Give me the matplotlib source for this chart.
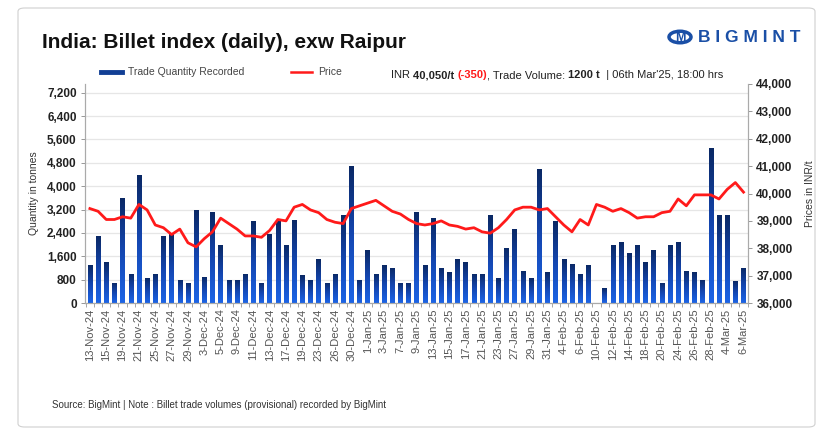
import matplotlib
matplotlib.use('Agg')
import matplotlib.pyplot as plt
import numpy as np
from matplotlib.colors import LinearSegmentedColormap
from matplotlib.patches import FancyBboxPatch, Circle
from matplotlib.lines import Line2D
from matplotlib.ticker import FuncFormatter

plt.rcParams['font.family'] = ['Liberation Sans', 'DejaVu Sans']

dates = [
    '13-Nov-24', '14-Nov-24', '15-Nov-24', '18-Nov-24', '19-Nov-24', '20-Nov-24', '21-Nov-24',
    '22-Nov-24', '25-Nov-24', '26-Nov-24', '27-Nov-24', '28-Nov-24', '29-Nov-24', '2-Dec-24',
    '3-Dec-24', '4-Dec-24', '5-Dec-24', '6-Dec-24', '9-Dec-24', '10-Dec-24', '11-Dec-24',
    '12-Dec-24', '13-Dec-24', '16-Dec-24', '17-Dec-24', '18-Dec-24', '19-Dec-24', '20-Dec-24',
    '23-Dec-24', '24-Dec-24', '26-Dec-24', '27-Dec-24', '30-Dec-24', '31-Dec-24', '1-Jan-25',
    '2-Jan-25', '3-Jan-25', '6-Jan-25', '7-Jan-25', '8-Jan-25', '9-Jan-25', '10-Jan-25',
    '13-Jan-25', '14-Jan-25', '15-Jan-25', '16-Jan-25', '17-Jan-25', '20-Jan-25', '21-Jan-25',
    '22-Jan-25', '23-Jan-25', '24-Jan-25', '27-Jan-25', '28-Jan-25', '29-Jan-25', '30-Jan-25',
    '31-Jan-25', '3-Feb-25', '4-Feb-25', '5-Feb-25', '6-Feb-25', '7-Feb-25', '10-Feb-25',
    '11-Feb-25', '12-Feb-25', '13-Feb-25', '14-Feb-25', '17-Feb-25', '18-Feb-25', '19-Feb-25',
    '20-Feb-25', '21-Feb-25', '24-Feb-25', '25-Feb-25', '26-Feb-25', '27-Feb-25', '28-Feb-25',
    '3-Mar-25', '4-Mar-25', '5-Mar-25', '6-Mar-25',
]

quantity = [
    1300, 2300, 1400, 700, 3600, 1000, 4400, 850, 1000, 2300,
    2350, 800, 700, 3200, 900, 3100, 2000, 800, 800, 1000,
    2800, 700, 2350, 2800, 2000, 2850, 950, 800, 1500, 700,
    1000, 3000, 4700, 800, 1800, 1000, 1300, 1200, 700, 700,
    3100, 1300, 2900, 1200, 1050, 1500, 1400, 1000, 1000, 3000,
    850, 1900, 2550, 1100, 850, 4600, 1050, 2800, 1500, 1350,
    1000, 1300, 0, 500, 2000, 2100, 1700, 2000, 1400, 1800,
    700, 2000, 2100, 1100, 1050, 800, 5300, 3000, 3000, 750,
    1200,
]

price = [
    39450, 39350, 39050, 39050, 39150, 39100, 39600, 39400, 38850, 38750,
    38500, 38700, 38200, 38050, 38350, 38600, 39100, 38900, 38700, 38450,
    38450, 38400, 38650, 39050, 39000, 39500, 39600, 39400, 39300, 39050,
    38950, 38900, 39450, 39550, 39650, 39750, 39550, 39350, 39250, 39050,
    38900, 38850, 38900, 39000, 38850, 38800, 38700, 38750, 38600, 38550,
    38750, 39050, 39400, 39500, 39500, 39400, 39450, 39150, 38850, 38600,
    39050, 38850, 39600, 39500, 39350, 39450, 39300, 39100, 39150, 39150,
    39300, 39350, 39800, 39550, 39950, 39950, 39950, 39800, 40150, 40400,
    40050,
]

q_ticks = list(range(0, 7201, 800))
p_ticks = list(range(36000, 44001, 1000))

W, H = 827, 433
fig = plt.figure(figsize=(W / 100, H / 100), dpi=100)

# outer frame
fig.add_artist(FancyBboxPatch((18 / W, 6 / H), 797 / W, 419 / H,
                              boxstyle='round,pad=0,rounding_size=0.008',
                              transform=fig.transFigure, fc='none',
                              ec='#d0d0d0', lw=0.8))

ax = fig.add_axes([85 / W, 1 - 303 / H, 663 / W, 219 / H])
ax2 = ax.twinx()

x = np.arange(len(dates))
bars = ax.bar(x, quantity, width=0.55, color='#123f95', zorder=2)

# vertical gradient inside each bar, dark at top
cmap = LinearSegmentedColormap.from_list('bar', ['#1c64e6', '#1446b0', '#0a2864'])
grad = np.linspace(0, 1, 64).reshape(-1, 1)
for b in bars:
    h = b.get_height()
    if h <= 0:
        continue
    x0 = b.get_x()
    im = ax.imshow(grad, extent=[x0, x0 + b.get_width(), 0, h], origin='lower',
                   aspect='auto', cmap=cmap, zorder=2.5)
    im.set_clip_path(b)

ax2.plot(x, price, color='#ff1a1a', lw=2, solid_joinstyle='round', zorder=3)

ax.set_xlim(-0.6, len(dates) - 0.45)
ax.set_ylim(0, 7500)
ax2.set_ylim(36000, 44000)

ax.set_yticks(q_ticks)
ax2.set_yticks(p_ticks)
fmt = FuncFormatter(lambda v, p: '{:,.0f}'.format(v))
ax.yaxis.set_major_formatter(fmt)
ax2.yaxis.set_major_formatter(fmt)
ax.tick_params(axis='y', labelsize=8.5, colors='#888888', labelcolor='#222222',
               length=3, width=0.6, pad=3)
ax2.tick_params(axis='y', labelsize=8.5, colors='#888888', labelcolor='#222222',
                length=3, width=0.6, pad=3)
for t in ax.get_yticklabels() + ax2.get_yticklabels():
    t.set_fontweight('bold')

ax.set_xticks(x[::2])
ax.set_xticklabels(dates[::2], rotation=90, fontsize=8, color='#555555')
ax.set_xticks(np.arange(len(dates) + 1) - 0.5, minor=True)
ax.tick_params(axis='x', which='major', length=0, pad=4)
ax.tick_params(axis='x', which='minor', length=3, width=0.6, colors='#999999')

ax.grid(axis='y', color='#e6e6e6', lw=0.9, zorder=0)
ax.set_axisbelow(True)
for a in (ax, ax2):
    a.spines['top'].set_visible(False)
    for s in ('left', 'right', 'bottom'):
        a.spines[s].set_color('#aaaaaa')
        a.spines[s].set_linewidth(0.8)

ax.set_ylabel('Quantity in tonnes', fontsize=7.5, color='#333333', labelpad=6)
ax2.set_ylabel('Prices in INR/t', fontsize=7.5, color='#333333', labelpad=9)

# title
fig.text(42 / W, 1 - 43 / H, 'India: Billet index (daily), exw Raipur',
         fontsize=15, fontweight='bold', color='#111111', va='center')

# legend
fig.add_artist(Line2D([101 / W, 122 / W], [1 - 72 / H] * 2, color='#123f95', lw=3.5,
                      transform=fig.transFigure))
fig.text(128 / W, 1 - 72 / H, 'Trade Quantity Recorded', fontsize=7.5,
         color='#444444', va='center')
fig.add_artist(Line2D([291 / W, 312 / W], [1 - 72 / H] * 2, color='#ff1a1a', lw=1.8,
                      transform=fig.transFigure))
fig.text(318 / W, 1 - 72 / H, 'Price', fontsize=7.5, color='#444444', va='center')

# info line with mixed styles
parts = [
    ('INR ', 'normal', '#222222'),
    ('40,050/t ', 'bold', '#222222'),
    ('(-350)', 'bold', '#ff1a1a'),
    (', Trade Volume: ', 'normal', '#222222'),
    ('1200 t', 'bold', '#222222'),
    ('  | 06th Mar\'25, 18:00 hrs', 'normal', '#222222'),
]
renderer = fig.canvas.get_renderer()
xpos = 391 / W
for s, w, c in parts:
    t = fig.text(xpos, 1 - 75 / H, s, fontsize=8, fontweight=w, color=c, va='center')
    xpos += t.get_window_extent(renderer).width / W

# logo
fig.add_artist(Circle((680 / W, 1 - 37 / H), 11 / W, transform=fig.transFigure,
                      fc='none', ec='#1a4fa6', lw=2.5))
fig.text(680 / W, 1 - 38 / H, 'M', fontsize=9, fontweight='bold', color='#1a4fa6',
         ha='center', va='center')
fig.text(698 / W, 1 - 38 / H, 'B I G M I N T', fontsize=12.5, fontweight='bold',
         color='#1a4fa6', va='center')

fig.text(52 / W, 1 - 405 / H,
         'Source: BigMint | Note : Billet trade volumes (provisional) recorded by BigMint',
         fontsize=7, color='#333333', va='center')

fig.savefig('out.png', dpi=100)
